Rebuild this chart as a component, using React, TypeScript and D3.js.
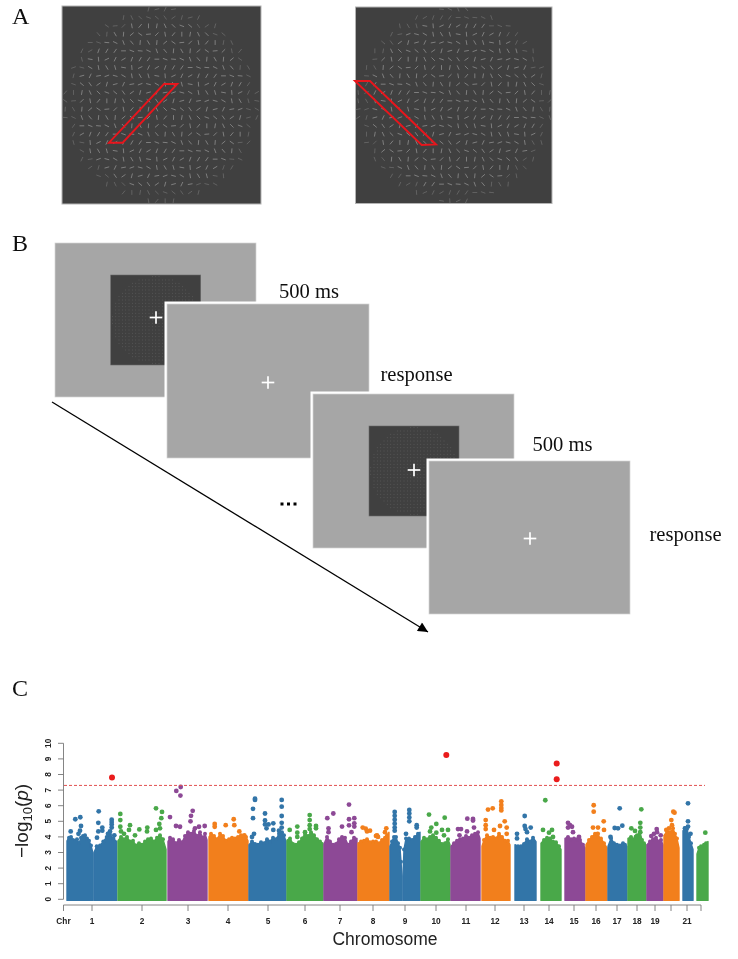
import React from "react";
import * as d3 from "d3";

const W = 738, H = 959;

// ---------- Panel A: stimulus ----------
const gaborAngles = [80, 20, 115, 60, 150, 5, 95, 130, 40, 170, 75, 110, 25, 140, 90, 55, 160, 10, 120, 70, 35, 100, 145, 15, 85, 125, 50, 175, 65, 105, 30, 155, 0, 95, 135, 45, 165, 80, 115, 20, 60];
const stimLeft = { x0: 62, x1: 261, y0: 6, y1: 204, cx: 161, cy: 105 };
const stimRight = { x0: 355.5, x1: 552, y0: 7, y1: 203.5, cx: 454, cy: 105 };
const redLeft: [number, number][] = [[164, 84], [177.3, 84], [122.7, 142.7], [109, 142.7]];
const redRight: [number, number][] = [[355, 81], [370, 81], [436, 144.5], [421.7, 145]];

// ---------- Panel B: trial sequence ----------
const screens = [
  { x: 55, y: 243, w: 201, h: 154, dark: { x: 110.7, y: 275, s: 90 }, cross: [156, 317.5], halo: false },
  { x: 167, y: 304, w: 202, h: 154, dark: null, cross: [268, 382.5], halo: true },
  { x: 313, y: 394, w: 201, h: 154, dark: { x: 369, y: 426, s: 90 }, cross: [414, 470], halo: true },
  { x: 429, y: 461, w: 201, h: 153, dark: null, cross: [530, 538.5], halo: true },
];
const captions = [
  { t: "500 ms", x: 279, y: 298 },
  { t: "response", x: 380.5, y: 381 },
  { t: "500 ms", x: 532.5, y: 451 },
  { t: "response", x: 649.5, y: 541 },
];
const ellipsisDots = [282, 288.5, 295];
const panelLabels = [
  { t: "A", x: 12, y: 24 },
  { t: "B", x: 12, y: 251 },
  { t: "C", x: 12, y: 696 },
];

// ---------- Panel C: Manhattan plot ----------
const chromColors: Record<string, string> = { blue: "#3274a8", green: "#4aa84a", purple: "#8d4a96", orange: "#f27f1b" };
const hitColor = "#ea1c1c";
const threshold = 7.3;
const yTicks = [0, 1, 2, 3, 4, 5, 6, 7, 8, 9, 10];
const chrTicks: [number, string][] = [[0.5, "Chr"], [29, "1"], [79, "2"], [125, "3"], [165, "4"], [205, "5"], [242, "6"], [277, "7"], [310, "8"], [342, "9"], [373, "10"], [403, "11"], [432, "12"], [461, "13"], [486, "14"], [511, "15"], [533, "16"], [554, "17"], [574, "18"], [592, "19"], [608, ""], [624, "21"], [638, ""]];

type P = [number, number];
const env: { c: string; top: P[] }[] = [
  { c: "blue", top: [[4, 3.75], [6, 3.95], [8, 4.0], [10, 3.8], [12, 3.75], [14, 3.85], [16, 3.6], [18, 3.95], [20, 4.05], [22, 4.1], [24, 3.9], [26, 3.75], [28, 3.45], [30, 2.95]] },
  { c: "blue", top: [[31, 3.0], [33.7, 3.4], [37, 3.45], [40.3, 3.7], [43.7, 4.0], [47, 4.15], [50.3, 3.9], [53.7, 3.7]] },
  { c: "green", top: [[55, 3.75], [58, 4.0], [61, 3.85], [64, 4.0], [67, 3.7], [70, 3.75], [73, 3.45], [76, 3.6], [79, 3.5], [82, 3.7], [85, 3.85], [88, 3.9], [91, 3.7], [94, 3.95], [97, 4.1], [100, 3.85], [103, 3.2]] },
  { c: "purple", top: [[105, 3.7], [107, 3.95], [110, 3.85], [113, 3.6], [116, 3.8], [119, 3.65], [122, 4.05], [125, 4.3], [128, 4.2], [131, 4.4], [134, 4.05], [137, 4.3], [140, 3.95], [142, 4.2], [144, 3.8]] },
  { c: "orange", top: [[146, 4.0], [148, 4.2], [151, 4.05], [154, 3.85], [157, 4.2], [160, 4.05], [163, 3.75], [166, 3.85], [169, 3.95], [172, 3.9], [175, 4.0], [178, 4.1], [181, 3.9], [183, 4.0], [185, 3.75]] },
  { c: "blue", top: [[186, 3.5], [189, 3.7], [192, 3.55], [195, 3.5], [198, 3.65], [201, 3.6], [204, 3.85], [207, 3.7], [210, 3.95], [213, 3.85], [216, 4.2], [219, 4.3], [221, 4.1], [223, 3.7]] },
  { c: "green", top: [[224, 3.8], [227, 3.9], [230, 3.55], [233, 3.5], [236, 3.65], [239, 3.9], [242, 4.2], [245, 4.05], [248, 4.3], [251, 4.1], [254, 3.85], [257, 3.7], [260, 3.6]] },
  { c: "purple", top: [[261, 3.55], [264, 4.0], [267, 3.7], [270, 3.5], [273, 3.55], [276, 3.85], [279, 4.0], [282, 3.95], [285, 3.5], [288, 3.7], [291, 3.95], [294, 3.9]] },
  { c: "orange", top: [[295, 3.6], [298, 3.7], [301, 3.75], [304, 3.85], [307, 3.65], [310, 3.7], [313, 3.7], [316, 3.6], [319, 3.8], [322, 3.95], [324, 4.1], [326, 4.3]] },
  { c: "blue", top: [[327, 3.4], [329, 3.7], [331, 4.0], [333, 4.0], [335, 3.6], [337, 3.3], [338, 2.4], [339, 1.5]] },
  { c: "blue", top: [[340, 1.5], [341, 3.2], [343, 3.9], [346, 3.9], [349, 3.8], [352, 4.0], [355, 4.2], [357, 4.3]] },
  { c: "green", top: [[358, 3.7], [361, 3.95], [364, 3.85], [367, 4.0], [370, 4.1], [373, 3.95], [376, 3.75], [379, 3.55], [382, 3.6], [385, 3.85], [387, 3.5]] },
  { c: "purple", top: [[388, 3.4], [391, 3.6], [394, 3.75], [397, 3.85], [400, 3.9], [403, 4.05], [406, 3.95], [409, 4.1], [412, 4.2], [415, 4.3], [417, 3.9]] },
  { c: "orange", top: [[419, 3.4], [421, 3.8], [424, 4.1], [427, 3.95], [430, 4.0], [433, 3.9], [436, 4.2], [439, 4.0], [442, 3.75], [445, 3.75], [447, 3.5]] },
  { c: "blue", top: [[452, 3.5], [455, 3.4], [458, 3.4], [461, 3.55], [464, 3.85], [467, 3.7], [470, 3.95], [473, 3.7]] },
  { c: "green", top: [[478, 3.6], [481, 3.8], [484, 3.95], [487, 3.9], [490, 3.7], [493, 3.65], [496, 3.4], [498, 3.2]] },
  { c: "purple", top: [[502, 3.9], [505, 4.0], [508, 3.85], [511, 3.9], [514, 3.85], [517, 3.8], [520, 3.5], [522, 3.3]] },
  { c: "orange", top: [[523, 3.5], [526, 3.8], [529, 4.0], [532, 4.2], [535, 4.0], [538, 3.9], [541, 3.6], [544, 3.3]] },
  { c: "blue", top: [[545, 3.4], [548, 3.9], [551, 3.6], [554, 3.5], [557, 3.45], [560, 3.6], [562, 3.5], [564, 3.4]] },
  { c: "green", top: [[565, 3.9], [568, 4.0], [571, 3.85], [574, 4.1], [577, 4.3], [579, 3.8], [581, 3.6], [583, 3.5]] },
  { c: "purple", top: [[584, 3.5], [587, 3.7], [590, 3.85], [593, 3.95], [596, 3.7], [598, 3.8], [600, 3.5]] },
  { c: "orange", top: [[601, 4.1], [604, 4.35], [607, 4.3], [610, 4.55], [612, 4.2], [614, 3.9], [616, 3.3]] },
  { c: "blue", top: [[620, 4.4], [622, 4.55], [624, 4.5], [626, 4.0], [628, 3.6], [630, 3.2]] },
  { c: "green", top: [[634, 2.9], [636, 3.3], [638, 3.4], [641, 3.5], [643, 3.6], [645, 3.7]] },
];

const bluePeaks: P[] = [[7.7, 4.35], [12.3, 5.13], [17.3, 5.26], [18, 4.7], [17, 4.4], [15.5, 4.2], [35.7, 5.64], [35.3, 4.9], [35.3, 4.35], [39.3, 4.6], [39.3, 4.4], [48.7, 5.1], [48.7, 4.95], [48.7, 4.8], [48.7, 4.6], [47, 4.35], [45, 4.2], [51.3, 4.1], [34, 3.95],
  [192, 6.37], [192, 6.45], [190, 5.8], [190, 5.2], [191, 4.2], [189, 4.0], [202, 5.5], [202, 5.05], [202, 4.8], [203.5, 4.55], [205.5, 4.8], [210.3, 4.87], [210.3, 4.45], [218.7, 6.37], [218.7, 5.94], [218.7, 5.34], [218.7, 4.9], [218.7, 4.6], [216, 4.4],
  [331.7, 5.6], [331.7, 5.35], [331.7, 5.1], [331.7, 4.85], [331.7, 4.6], [331.7, 4.4], [346.3, 5.73], [346.3, 5.5], [346.3, 5.25], [346.3, 5.0], [353.7, 4.75], [353.7, 4.6], [343, 4.2],
  [461.7, 5.34], [461.7, 4.7], [462.5, 4.5], [464, 4.3], [467.7, 4.6], [454, 4.2], [454, 3.9],
  [556.7, 5.83], [559.3, 4.72], [551.7, 4.57], [555, 4.55], [547.5, 4.0],
  [625, 6.15], [625, 5.0], [625, 4.66], [622, 4.55], [627.5, 4.2]];
const greenPeaks: P[] = [[57.3, 5.47], [57.3, 5.08], [57.3, 4.65], [58, 4.35], [67, 4.75], [66, 4.45], [61, 4.2], [72, 4.1], [76.3, 4.48], [84.3, 4.6], [84, 4.35], [93, 5.83], [99, 5.6], [98.3, 5.2], [96.3, 4.83], [97, 4.55], [93, 4.45],
  [226.7, 4.45], [234.3, 4.66], [234.3, 4.27], [234.3, 4.0], [246.7, 5.4], [246.7, 5.08], [246.7, 4.75], [246.7, 4.5], [253, 4.7], [253, 4.55], [242, 4.3],
  [366, 5.43], [381.7, 5.23], [373.3, 4.83], [368.3, 4.6], [367, 4.35], [373.3, 4.27], [379, 4.45], [385, 4.45], [381, 4.1],
  [482.3, 6.35], [480, 4.45], [489, 4.45], [486, 4.27], [490, 4.0],
  [578.3, 5.77], [577.3, 4.9], [577.3, 4.6], [577.3, 4.3], [568.3, 4.55], [572, 4.38], [573, 4.0],
  [642.3, 4.27]];
const purplePeaks: P[] = [[107, 5.27], [113.3, 6.95], [117.7, 7.2], [117.4, 6.65], [129.7, 5.67], [128, 5.35], [127.5, 5.0], [113, 4.7], [117, 4.65], [132, 4.55], [136, 4.65], [141.7, 4.7],
  [264.3, 5.2], [270.3, 5.5], [265.5, 4.55], [265.5, 4.3], [279, 4.66], [286, 6.07], [286, 5.13], [286, 4.74], [291.3, 5.2], [291.3, 4.87], [291.3, 4.66], [288.5, 4.3],
  [404.3, 5.17], [410, 5.15], [410, 5.05], [395, 4.5], [398, 4.5], [396.5, 4.1], [411, 4.6], [404, 4.35],
  [505, 4.9], [505, 4.6], [509, 4.65], [510, 4.3], [516, 4.0], [507, 4.75],
  [593.7, 4.5], [588.3, 4.05], [597.7, 4.1], [591, 4.2], [594, 4.3]];
const orangePeaks: P[] = [[151.7, 4.83], [151.7, 4.65], [162.7, 4.75], [170.7, 5.13], [171.3, 4.75], [176.3, 4.35], [181.3, 4.1],
  [299.7, 4.6], [302.7, 4.53], [304, 4.35], [307, 4.4], [313, 4.06], [314, 4.1], [315, 4.0], [323.3, 4.55], [322, 4.3],
  [425, 5.75], [429.7, 5.83], [438.3, 6.28], [438.3, 6.05], [438.3, 5.85], [438.3, 5.7], [422.7, 5.08], [422.7, 4.75], [422.7, 4.5], [441.7, 5.0], [437, 4.7], [443.7, 4.6], [443.7, 4.2], [431, 4.45],
  [530.7, 6.03], [530.7, 5.62], [540.7, 5.0], [535, 4.6], [530, 4.6], [541, 4.45], [534.7, 4.2],
  [610.3, 5.62], [611.5, 5.55], [608.3, 5.08], [609, 4.75], [603.3, 4.45], [606, 4.55]];
const hits: P[] = [[49, 7.8], [383.3, 9.25], [493.7, 8.7], [493.7, 7.7]];

const x = d3.scaleLinear().domain([0, 646]).range([63, 709]);
const y = d3.scaleLinear().domain([0, 10]).range([899.3, 743.3]);
const FLOOR = -0.07;

function Stim({ s, poly, shift }: { s: typeof stimLeft; poly: [number, number][]; shift: number }) {
  const step = 8.33;
  const cells = d3.range(24).flatMap((r) => d3.range(24).map((c) => ({ r, c })));
  const line = d3.line();
  return (
    <g>
      <rect x={s.x0} y={s.y0} width={s.x1 - s.x0} height={s.y1 - s.y0} fill="#404040" stroke="#b4b4b4" strokeWidth={1} />
      {cells.map(({ r, c }) => {
        const px = s.cx + (c - 11.5) * step;
        const py = s.cy + (r - 11.5) * step;
        const d = Math.hypot(px - s.cx, py - s.cy);
        if (d > 97) return null;
        const a = (gaborAngles[(r * 13 + c * 7 + shift) % gaborAngles.length] * Math.PI) / 180;
        const dx = Math.cos(a) * 2.4, dy = Math.sin(a) * 2.4;
        return <line key={`${r}-${c}`} x1={px - dx} y1={py - dy} x2={px + dx} y2={py + dy} stroke="#868686" strokeWidth={0.9} opacity={d > 85 ? 0.55 : 1} />;
      })}
      <path d={line(poly) + "Z"} fill="none" stroke="#e8141c" strokeWidth={1.9} />
    </g>
  );
}

function MiniStim({ d }: { d: { x: number; y: number; s: number } }) {
  const n = 27;
  const cx = d.x + d.s / 2, cy = d.y + d.s / 2, st = d.s / n;
  const cells = d3.range(n).flatMap((r) => d3.range(n).map((c) => ({ r, c })));
  return (
    <g>
      <rect x={d.x} y={d.y} width={d.s} height={d.s} fill="#404040" stroke="#6a6a6a" strokeWidth={0.6} />
      {cells.map(({ r, c }) => {
        const px = cx + (c - (n - 1) / 2) * st, py = cy + (r - (n - 1) / 2) * st;
        if (Math.hypot(px - cx, py - cy) > d.s * 0.485) return null;
        return <rect key={`${r}-${c}`} x={px - 0.45} y={py - 0.45} width={0.9} height={0.9} fill="#5a5a5a" />;
      })}
    </g>
  );
}

function Cross({ at }: { at: number[] }) {
  return (
    <g stroke="#ffffff" strokeWidth={1.7}>
      <line x1={at[0] - 6.3} x2={at[0] + 6.3} y1={at[1]} y2={at[1]} />
      <line x1={at[0]} x2={at[0]} y1={at[1] - 6.3} y2={at[1] + 6.3} />
    </g>
  );
}

const peakGroups: [string, P[]][] = [["blue", bluePeaks], ["green", greenPeaks], ["purple", purplePeaks], ["orange", orangePeaks]];

export default function App() {
  const area = d3.area<P>().x((d) => x(d[0])).y0(y(FLOOR)).y1((d) => y(d[1]));
  const serif = "'Liberation Serif', serif";
  const sans = "'Liberation Sans', Arial, sans-serif";
  return (
    <svg width={W} height={H} viewBox={`0 0 ${W} ${H}`} style={{ position: "absolute", left: 0, top: 0, background: "#fff" }}>
      <defs>
        <filter id="soft" x="0" y="0" width="100%" height="100%">
          <feGaussianBlur stdDeviation="0.35" />
        </filter>
        <marker id="head" viewBox="0 0 10 10" refX="10" refY="5" markerWidth="12" markerHeight="10" markerUnits="userSpaceOnUse" orient="auto">
          <path d="M0,0L10,5L0,10Z" fill="#000" />
        </marker>
      </defs>
      <g filter="url(#soft)">
        <rect width={W} height={H} fill="#fff" />
        {panelLabels.map((l) => (
          <text key={l.t} x={l.x} y={l.y} fontFamily={serif} fontSize={24} fill="#111">{l.t}</text>
        ))}

        <Stim s={stimLeft} poly={redLeft} shift={0} />
        <Stim s={stimRight} poly={redRight} shift={17} />

        {screens.map((s, i) => (
          <g key={i}>
            {s.halo && <rect x={s.x - 2.5} y={s.y - 2.5} width={s.w + 5} height={s.h + 5} fill="#fff" />}
            <rect x={s.x} y={s.y} width={s.w} height={s.h} fill="#a6a6a6" stroke="#d4d4d4" strokeWidth={0.7} />
            {s.dark && <MiniStim d={s.dark} />}
            <Cross at={s.cross} />
          </g>
        ))}
        {captions.map((c, i) => (
          <text key={i} x={c.x} y={c.y} fontFamily={serif} fontSize={20.6} fill="#111">{c.t}</text>
        ))}
        {ellipsisDots.map((d) => <rect key={d} x={d - 1.5} y={502.5} width={3} height={3} fill="#000" />)}
        <line x1={52} y1={402} x2={428} y2={632} stroke="#000" strokeWidth={1.3} markerEnd="url(#head)" />

        {/* Manhattan */}
        <g>
          {env.map((e, i) => (
            <g key={i} fill={chromColors[e.c]}>
              <path d={area(e.top) as string} stroke={chromColors[e.c]} strokeWidth={1.4} strokeLinejoin="round" />
              {e.top.slice(1, -1).map((p, j) => <circle key={j} cx={x(p[0])} cy={y(p[1])} r={2} />)}
            </g>
          ))}
          {peakGroups.map(([c, pts]) =>
            pts.map((p, i) => <circle key={c + i} cx={x(p[0])} cy={y(p[1])} r={2.4} fill={chromColors[c]} />)
          )}
          {hits.map((p, i) => <circle key={i} cx={x(p[0])} cy={y(p[1])} r={3} fill={hitColor} />)}
          <line x1={x(1)} x2={x(642)} y1={y(threshold)} y2={y(threshold)} stroke="#e2504f" strokeWidth={1} strokeDasharray="3 2" />

          <g stroke="#777" strokeWidth={0.9} fill="none">
            <line x1={63.5} x2={63.5} y1={y(10)} y2={y(0)} />
            {yTicks.map((t) => <line key={t} x1={58} x2={63.5} y1={y(t)} y2={y(t)} />)}
            <line x1={x(0.5)} x2={x(638)} y1={905} y2={905} />
            {chrTicks.map(([p], i) => <line key={i} x1={x(p)} x2={x(p)} y1={905} y2={911} />)}
          </g>
          {yTicks.map((t) => (
            <text key={t} transform={`translate(51,${y(t)}) rotate(-90)`} textAnchor="middle" fontFamily={sans} fontWeight="bold" fontSize={8.3} fill="#222">{t}</text>
          ))}
          {chrTicks.map(([p, l], i) => (
            <text key={i} x={x(p)} y={924} textAnchor="middle" fontFamily={sans} fontWeight="bold" fontSize={8.3} fill="#222">{l}</text>
          ))}
          <text x={385} y={945} textAnchor="middle" fontFamily={sans} fontSize={17.5} fill="#222">Chromosome</text>
          <text transform="translate(28,858) rotate(-90)" fontFamily={sans} fontSize={19} fill="#222">
            <tspan>−log</tspan>
            <tspan fontSize={13} dy={4}>10</tspan>
            <tspan dy={-4}>(</tspan>
            <tspan fontStyle="italic">p</tspan>
            <tspan>)</tspan>
          </text>
        </g>
      </g>
    </svg>
  );
}
